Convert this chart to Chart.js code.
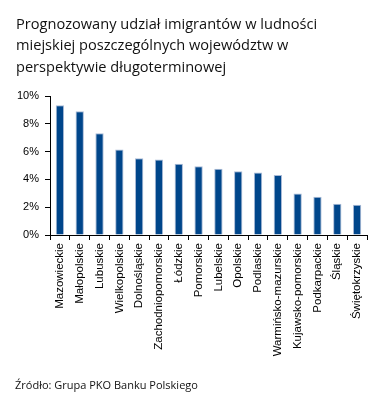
<!DOCTYPE html>
<html>
<head>
<meta charset="utf-8">
<script src="https://cdn.jsdelivr.net/npm/chart.js@4/dist/chart.umd.min.js"></script>
<style>
  html, body { margin: 0; padding: 0; background: #fff; width: 385px; height: 409px; overflow: hidden; }
  #title { position: absolute; left: 16px; top: 13px; font-family: "Open Sans", sans-serif; font-size: 14.6px; line-height: 21.3px; color: #111; }
  #source { position: absolute; left: 15px; top: 377px; font-family: "Open Sans", sans-serif; font-size: 11px; color: #111; }
  #wrap { position: absolute; left: 0; top: 0; width: 385px; height: 409px; }
</style>
</head>
<body>
<div id="wrap"><canvas id="c" width="385" height="409"></canvas></div>
<div id="title">Prognozowany udział imigrantów w ludności<br>miejskiej poszczególnych województw w<br>perspektywie długoterminowej</div>
<div id="source">Źródło: Grupa PKO Banku Polskiego</div>
<script>
const categories = ["Mazowieckie","Małopolskie","Lubuskie","Wielkopolskie","Dolnośląskie","Zachodniopomorskie","Łódzkie","Pomorskie","Lubelskie","Opolskie","Podlaskie","Warmińsko-mazurskie","Kujawsko-pomorskie","Podkarpackie","Śląskie","Świętokrzyskie"];
const shareValues = [9.33, 8.90, 7.32, 6.15, 5.53, 5.43, 5.12, 4.95, 4.76, 4.59, 4.50, 4.31, 2.99, 2.75, 2.25, 2.18];
const yTicks = [0, 2, 4, 6, 8, 10];

new Chart(document.getElementById('c'), {
  type: 'bar',
  data: {
    labels: categories,
    datasets: [{
      data: shareValues,
      backgroundColor: '#00468b',
      borderColor: '#a9bad6',
      borderWidth: 1,
      barPercentage: 0.42,
      categoryPercentage: 1.0
    }]
  },
  options: {
    responsive: false,
    animation: false,
    devicePixelRatio: 1,
    layout: { padding: { top: 96, left: 0, right: 18, bottom: 39 } },
    plugins: { legend: { display: false }, tooltip: { enabled: false } },
    scales: {
      x: {
        grid: { offset: true, drawOnChartArea: false, tickLength: 5, color: '#000', lineWidth: 1 },
        border: { color: '#000', width: 1 },
        ticks: { minRotation: 90, maxRotation: 90, padding: 3, color: '#000', autoSkip: false,
                 font: { family: '"Liberation Sans", Arial, sans-serif', size: 11.5 } },
        afterFit: (s) => { s.height = 135; }
      },
      y: {
        min: 0, max: 10,
        afterBuildTicks: (s) => { s.ticks = yTicks.map(v => ({ value: v })); },
        grid: { drawOnChartArea: false, tickLength: 5, color: '#000' },
        border: { color: '#000', width: 1 },
        ticks: { padding: 6, color: '#000', callback: (v) => v + '%',
                 font: { family: '"Liberation Sans", Arial, sans-serif', size: 11 } },
        afterFit: (s) => { s.width = 50; }
      }
    }
  }
});
</script>
</body>
</html>
